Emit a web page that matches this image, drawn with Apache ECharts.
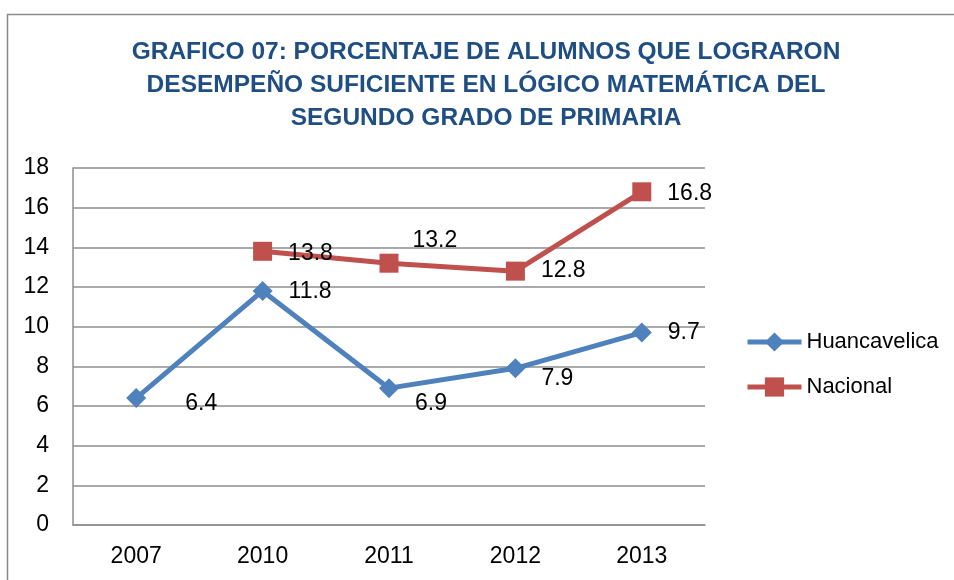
<!DOCTYPE html>
<html>
<head>
<meta charset="utf-8">
<script src="https://cdn.jsdelivr.net/npm/echarts@6/dist/echarts.min.js"></script>
<style>
  html, body { margin: 0; padding: 0; background: #fff; }
  #chart { width: 954px; height: 580px; }
</style>
</head>
<body>
<div id="chart"></div>
<script>
var years = ['2007', '2010', '2011', '2012', '2013'];
var huancavelica = [6.4, 11.8, 6.9, 7.9, 9.7];
var nacional = [null, 13.8, 13.2, 12.8, 16.8];
var yTicks = [0, 18, 2]; // min, max, interval

// label nudges, per point
var huanShift = [[23, 6], [0, 1], [0, 16], [0, 10], [0, 0]];
var nacShift = [[0, 0], [0, 2], [-2, -23], [0, 0], [0, 2]];

var sans = '"Liberation Sans", Arial, sans-serif';

function withLabels(vals, shifts) {
  return vals.map(function (v, i) {
    return { value: v, label: { offset: shifts[i] } };
  });
}

var chart = echarts.init(document.getElementById('chart'));
var option = {
  animation: false,
  title: {
    text: 'GRAFICO 07: PORCENTAJE DE ALUMNOS QUE LOGRARON\nDESEMPEÑO SUFICIENTE EN LÓGICO MATEMÁTICA DEL\nSEGUNDO GRADO DE PRIMARIA',
    left: 486,
    textAlign: 'center',
    top: 36,
    padding: 0,
    textStyle: {
      fontFamily: sans,
      fontWeight: 'bold',
      fontSize: 24.5,
      lineHeight: 33,
      color: '#1f4e85'
    }
  },
  legend: {
    orient: 'vertical',
    left: 745,
    top: 329,
    padding: 0,
    itemWidth: 54,
    itemHeight: 24,
    itemGap: 19,
    lineStyle: { width: 5 },
    textStyle: { fontFamily: sans, fontSize: 22, lineHeight: 26, color: '#000' },
    data: ['Huancavelica', 'Nacional']
  },
  grid: { left: 73, right: 249, top: 168, bottom: 55 },
  xAxis: {
    type: 'category',
    data: years,
    boundaryGap: true,
    axisLine: { lineStyle: { color: '#8e8e8e', width: 1.5 } },
    axisTick: { show: false },
    axisLabel: { margin: 20, fontFamily: sans, fontSize: 23, color: '#000' }
  },
  yAxis: {
    type: 'value',
    min: yTicks[0],
    max: yTicks[1],
    interval: yTicks[2],
    axisLine: { show: true, lineStyle: { color: '#8e8e8e', width: 1.5 } },
    axisTick: { show: false },
    axisLabel: { margin: 24, fontFamily: sans, fontSize: 23, color: '#000' },
    splitLine: { lineStyle: { color: '#8e8e8e', width: 1.5 } }
  },
  series: [
    {
      name: 'Huancavelica',
      type: 'line',
      data: withLabels(huancavelica, huanShift),
      symbol: 'diamond',
      symbolSize: 20,
      itemStyle: { color: '#4f81bd' },
      lineStyle: { color: '#4f81bd', width: 5 },
      label: {
        show: true, position: 'right', distance: 16,
        fontFamily: sans, fontSize: 23, color: '#000'
      }
    },
    {
      name: 'Nacional',
      type: 'line',
      data: withLabels(nacional, nacShift),
      symbol: 'rect',
      symbolSize: 19,
      itemStyle: { color: '#c0504d' },
      lineStyle: { color: '#c0504d', width: 5 },
      label: {
        show: true, position: 'right', distance: 16,
        fontFamily: sans, fontSize: 23, color: '#000'
      }
    }
  ],
  graphic: [{
    type: 'rect',
    shape: { x: 7.5, y: 14.5, width: 1000, height: 1000 },
    style: { fill: 'none', stroke: '#8a8a8a', lineWidth: 1.5 },
    silent: true
  }]
};
chart.setOption(option);
</script>
</body>
</html>
